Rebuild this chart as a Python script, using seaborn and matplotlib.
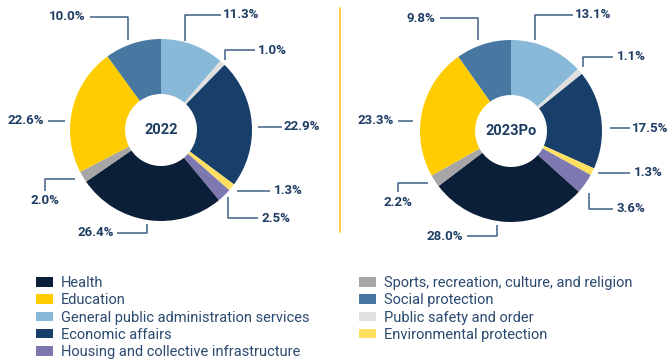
import matplotlib
matplotlib.use("Agg")
import matplotlib.pyplot as plt
from matplotlib.patches import Patch
import seaborn as sns

# Spending shares by function, listed clockwise from 12 o'clock
categories = [
    "General public administration services",
    "Public safety and order",
    "Economic affairs",
    "Environmental protection",
    "Housing and collective infrastructure",
    "Health",
    "Sports, recreation, culture, and religion",
    "Education",
    "Social protection",
]
values_2022 = [11.3, 1.0, 22.9, 1.3, 2.5, 26.4, 2.0, 22.6, 10.0]
values_2023 = [13.1, 1.1, 17.5, 1.3, 3.6, 28.0, 2.2, 23.3, 9.8]
years = ["2022", "2023Po"]

legend_order = [
    "Health",
    "Education",
    "General public administration services",
    "Economic affairs",
    "Housing and collective infrastructure",
    "Sports, recreation, culture, and religion",
    "Social protection",
    "Public safety and order",
    "Environmental protection",
]

palette = {
    "Health": "#0B1F38",
    "Education": "#FFCC00",
    "General public administration services": "#88B9D9",
    "Economic affairs": "#173F6A",
    "Housing and collective infrastructure": "#7D78AF",
    "Sports, recreation, culture, and religion": "#A6A6A6",
    "Social protection": "#4878A1",
    "Public safety and order": "#E0E0E0",
    "Environmental protection": "#FFDF5F",
}

sns.set_theme(style="white")
plt.rcParams["font.family"] = ["Roboto", "DejaVu Sans"]

TEXT = "#1D3D63"
LEADER = "#3F5F86"
W, H = 672, 359

fig = plt.figure(figsize=(W / 100, H / 100), dpi=100)
ax = fig.add_axes([0, 0, 1, 1])

colors = sns.color_palette([palette[c] for c in categories])

# Donut centres (pixel units, y measured from the bottom)
centres = [(161, H - 130), (511, H - 131)]
R, HOLE = 91, 36

# Leader-line layout per wedge: polyline offsets from the centre, text offset, alignment
layouts = [
    [
        ([(24, 89), (24, 115), (60, 115)], (62, 115), "left"),
        ([(64, 70), (64, 80), (94, 80)], (97, 80), "left"),
        ([(97, 3), (121, 3)], (123, 3), "left"),
        ([(76, -61), (109, -61)], (113, -61), "left"),
        ([(67, -67), (67, -88), (97, -88)], (100, -88), "left"),
        ([(-14, -94), (-14, -103), (-44, -103)], (-47, -103), "right"),
        ([(-86, -49), (-116, -49), (-116, -61)], (-116, -71), "center"),
        ([(-96, 9), (-113, 9)], (-117, 9), "right"),
        ([(-33, 90), (-33, 113), (-71, 113)], (-75, 113), "right"),
    ],
    [
        ([(24, 91), (24, 116), (62, 116)], (64, 116), "left"),
        ([(72, 64), (72, 74), (102, 74)], (106, 74), "left"),
        ([(99, 3), (119, 3)], (121, 3), "left"),
        ([(87, -42), (119, -42)], (123, -42), "left"),
        ([(78, -62), (78, -78), (102, -78)], (106, -78), "left"),
        ([(-14, -94), (-14, -105), (-44, -105)], (-48, -105), "right"),
        ([(-83, -52), (-113, -52), (-113, -61)], (-113, -72), "center"),
        ([(-98, 10), (-113, 10)], (-117, 10), "right"),
        ([(-33, 91), (-33, 113), (-71, 113)], (-76, 113), "right"),
    ],
]

for (cx, cy), vals, year, layout in zip(centres, [values_2022, values_2023], years, layouts):
    ax.pie(
        vals,
        colors=colors,
        startangle=90,
        counterclock=False,
        radius=R,
        center=(cx, cy),
        wedgeprops=dict(width=R - HOLE, linewidth=0),
    )
    ax.text(cx, cy, year, ha="center", va="center", fontsize=10.5,
            fontweight="bold", color=TEXT)
    for v, (pts, (tx, ty), ha) in zip(vals, layout):
        xs = [cx + p[0] for p in pts]
        ys = [cy + p[1] for p in pts]
        ax.plot(xs, ys, color=LEADER, lw=1.1, solid_capstyle="butt")
        ax.text(cx + tx, cy + ty, f"{v:.1f}%", ha=ha, va="center",
                fontsize=9.5, fontweight="bold", color=TEXT)

# Vertical divider between the two years
ax.plot([339.5, 339.5], [H - 8, H - 232], color="#FFC72C", lw=1.3)

ax.set_xlim(0, W)
ax.set_ylim(0, H)
ax.set_aspect("equal")
ax.axis("off")

# Two-column legend, each column placed on its own
handles = {c: Patch(facecolor=palette[c], edgecolor="none") for c in legend_order}
cols = [legend_order[:5], legend_order[5:]]
col_x = [36, 359]
for names, x0 in zip(cols, col_x):
    fig.legend(
        [handles[n] for n in names], names,
        loc="upper left",
        bbox_to_anchor=(x0 / W, (H - 276) / H),
        frameon=False,
        fontsize=10.5,
        labelcolor="#2B4A70",
        handlelength=1.16,
        handleheight=0.62,
        handletextpad=0.55,
        labelspacing=0.225,
        borderpad=0,
        borderaxespad=0,
    )

fig.savefig("out.png", dpi=100, facecolor="white")
